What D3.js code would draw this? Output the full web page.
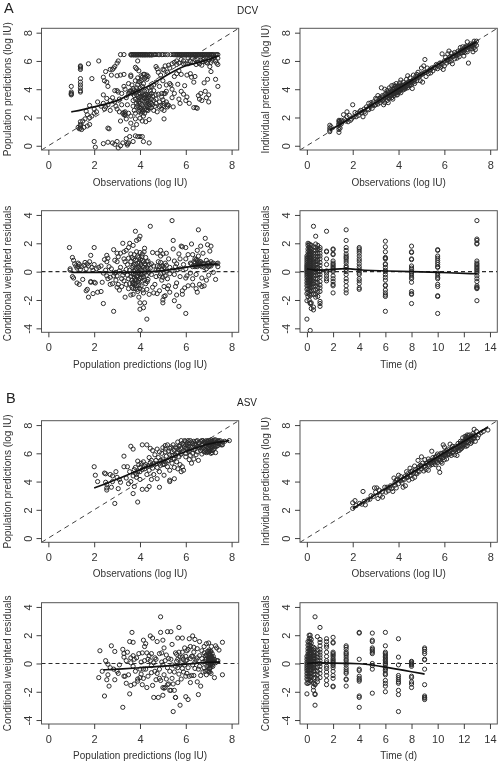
<!DOCTYPE html>
<html><head><meta charset="utf-8">
<script src="https://cdn.jsdelivr.net/npm/d3@7"></script>
<style>html,body{margin:0;background:#fff}svg{display:block;font-family:"Liberation Sans",Arial,sans-serif}</style>
</head><body><div id="c"></div>
<script>
// ---- DCV: population predictions vs observations
const dcvPopBandX=[3.15,3.3,3.6,3.65,3.7,3.75,3.8,3.85,3.9,3.95,4,4.05,4.1,4.15,4.2,4.25,4.3,4.4,4.45,4.5,4.6,4.65,4.7,4.8,4.85,4.95,5,5.1,5.2,5.35,5.45,5.5,5.55,5.6,5.65,5.7,5.75,5.8,5.85,5.9,5.95,6,6.05,6.1,6.15,6.2,6.25,6.3,6.35,6.4,6.45,6.5,6.55,6.6,6.65,6.7,6.75,6.8,6.85,6.9,6.95,7,7.05,7.1,7.15,7.2,7.3,7.35,7.4];
const dcvPopBandDense=[3.62,3.72,3.82,3.92,4.02,4.12,4.22,4.32,4.42,4.52,5.62,5.72,5.82,5.92,6.02,6.12,6.22,6.32,6.42,6.52,6.62,6.72,6.82,6.92,7.02,7.12,7.22];
const dcvPop=[[1,4.2],[1,3.8],[1,3.7],[1,3.6],[1.4,5.6],[1.4,5.5],[1.4,5.4],[1.4,4.75],[1.4,4.5],[1.4,4.3],[1.4,4.1],[1.4,3.9],[1.4,3.8],[1.75,5.8],[2.2,6],[1.9,4.75],[1.4,1.7],[1.4,1.5],[1.3,1.3],[1.35,1.2],[1.4,1.4],[1.5,1.75],[1.6,1.9],[1.55,1.3],[1.7,1.4],[1.8,1.5],[1.8,2.85],[1.7,2.2],[1.8,2],[1.9,2.1],[2,2.6],[2,2.3],[2.1,2.4],[2.15,3.1],[2.3,2.8],[2.4,3],[2.45,2.6],[1.65,2.45],[2,0.3],[2.05,-0.1],[2.4,0.15],[2.6,0.25],[2.8,0.2],[2.9,0.1],[3,0.3],[3.05,-0.15],[3.15,0],[3.25,0.2],[3.4,0.5],[3.45,0.15],[3.5,0.2],[3.55,0.65],[3.7,0.3],[3.8,0.7],[3.9,0.65],[4,0.65],[4.1,0.65],[4.15,0.3],[4.4,0.2],[2.6,1.25],[2.65,1.2],[3.4,1.15],[3.7,1.25],[3.85,1.5],[2.4,4.85],[2.45,4.6],[2.5,5.25],[2.55,4.5],[2.6,4.2],[2.7,5.4],[2.75,5],[2.8,5.4],[2.85,5.5],[2.9,5.6],[3,5.85],[3.05,6],[3,4.95],[3.15,5],[3.3,5.05],[2.4,3.6],[2.55,3.35],[2.7,3.2],[2.8,3.4],[2.9,3.1],[2.9,3.9],[3,3.9],[3.05,3.8],[3.1,3.3],[3.2,3.7],[2.6,2.9],[2.7,2.5],[2.5,2.75],[2.95,2.8],[3,2.6],[3.1,2.4],[3.2,2.9],[3.25,2.3],[3.3,2.2],[3.35,2.4],[3.15,1.75],[3.4,1.9],[3.5,2.3],[3.6,2.1],[3.6,1.6],[3.3,4.2],[3.35,4],[3.4,3.4],[3.45,2.9],[3.5,4.4],[3.5,3.7],[3.55,3.85],[3.6,5],[3.6,4.9],[3.65,4.3],[3.7,3.8],[3.7,3.2],[3.7,2.8],[3.75,2.5],[3.8,5.55],[3.85,5.45],[3.8,4.6],[3.85,4.1],[3.85,3.6],[3.85,3],[3.8,2.3],[3.8,1.9],[3.9,6],[3.95,5.3],[3.9,4.8],[3.9,4.3],[3.95,3.9],[3.95,3.4],[3.95,2.7],[3.95,2.4],[4,4.5],[4,4.1],[4,3.7],[4,3],[4,2.5],[4,1.95],[4.05,4.95],[4.05,4.6],[4.1,4.2],[4.1,3.2],[4.1,2.9],[4.1,2.4],[4.1,1.75],[4.15,5.05],[4.15,4.4],[4.15,3.6],[4.15,3.4],[4.15,2.1],[4.2,5.05],[4.2,4.75],[4.2,3.85],[4.2,3.1],[4.2,2.6],[4.25,1.7],[4.3,5],[4.3,4.7],[4.3,3.3],[4.3,2.8],[4.35,4.9],[4.35,3.6],[4.35,2.5],[4.4,4.1],[4.4,3.5],[4.4,2.9],[4.4,1.85],[4.5,4.2],[4.5,3.7],[4.5,3.3],[4.5,2.7],[4.6,4.3],[4.6,3.9],[4.6,2.5],[4.7,5.6],[4.75,5.45],[4.7,4.5],[4.7,3.6],[4.7,3],[4.75,2.4],[4.8,5.2],[4.85,4.2],[4.85,3.1],[4.9,5],[4.95,3.7],[4.95,2.6],[5,5.4],[5,4.6],[5.05,3.7],[5.05,3],[5.05,2.5],[5.05,1.9],[5.1,5.65],[5.15,4.3],[5.15,3.85],[5.2,5.2],[5.2,2.9],[5.25,5.7],[5.3,4.4],[5.35,4.3],[5.4,5.8],[5.4,4],[5.4,3.4],[5.45,2.75],[5.5,5.9],[5.5,4.9],[5.5,3.7],[5.6,6],[5.6,5.1],[5.65,4.35],[5.7,5.3],[5.7,3.3],[5.75,3],[5.8,6.1],[5.8,5.05],[5.8,3.85],[5.9,6],[5.9,3.65],[5.95,4.25],[6,5.8],[6,3.2],[6.05,5],[6.05,3.45],[6.1,6.2],[6.15,3],[6.2,5.95],[6.2,5.1],[6.25,4.85],[6.3,5.9],[6.35,4.5],[6.35,2.7],[6.4,6.1],[6.4,4.9],[6.45,2.7],[6.5,6.1],[6.5,2.65],[6.55,3.55],[6.6,5.8],[6.6,3.3],[6.65,3.7],[6.7,5.7],[6.7,3.2],[6.75,5.95],[6.8,6.15],[6.8,4.45],[6.85,3.85],[6.9,5.9],[6.9,3.4],[6.95,4.7],[7,6.1],[7,3.6],[7,3.1],[7.05,5.6],[7.1,5.9],[7.1,5.25],[7.2,6.2],[7.3,6],[7.3,4.7],[7.35,5.85],[7.4,5.75],[7.4,4.2],[7.4,6.2]];
const dcvPopDense=[[3.35,2.25],[3.35,2.15],[3.3,2.35],[3.55,3.75],[3.6,3.9],[3.65,3.7],[3.7,4.05],[3.75,3.95],[3.75,3.55],[3.8,3.8],[3.8,3.3],[3.85,3.85],[3.85,2.75],[3.9,3.5],[3.9,3.2],[3.9,2.85],[3.95,3.1],[3.95,4.55],[4,3.45],[4,3.25],[4.05,2.65],[4.05,2.3],[4.05,3.5],[4.1,3.75],[4.1,4.85],[4.1,2.55],[4.15,2.75],[4.15,2.45],[4.2,3.35],[4.2,3.55],[4.2,2.3],[4.25,3.65],[4.25,3.45],[4.25,2.95],[4.25,4.85],[4.3,3.15],[4.3,3.9],[4.3,2.55],[4.35,3.4],[4.35,3],[4.35,2.7],[4.4,3.2],[4.4,2.65],[4.45,3.9],[4.45,3.6],[4.45,3.05],[4.5,3],[4.55,3.5],[4.55,2.9],[4.6,3.2],[4.65,2.8],[4.7,3.3],[4.8,3.65],[4.85,2.75],[4.9,2.85],[4.95,3.45],[5,2.85],[5,3.25],[5.05,5.35],[5.1,3.7],[5.15,3.1],[5.2,2.75],[5.25,2.85],[5.3,5.5],[5.6,5.75],[5.7,5.85],[5.9,5.8],[6.1,5.8],[6.3,6.2],[6.45,5.75],[6.55,5.9],[6.65,6.05],[6.75,6.1],[6.85,6],[6.95,5.85],[7.05,6.2],[7.15,6.05],[7.25,6.25],[1.4,1.25],[1.45,1.15],[1.4,5.65],[1,3.65],[3.45,0.05]];
const dcvPopSmoothX=[1,1.5,2,2.5,3,3.5,4,4.5,5,5.5,6,6.5,7,7.4];
const dcvPopSmoothY=[2.4,2.55,2.75,2.95,3.15,3.6,3.95,4.3,4.85,5.3,5.7,5.85,6.1,6.35];
// ---- DCV: individual predictions vs observations
const dcvInd=[[1,1.45],[1,1.25],[1,1.1],[1,1],[1.05,1.35],[1.4,1.8],[1.4,1.7],[1.4,1.5],[1.4,1.3],[1.4,1.15],[1.4,0.95],[1.45,1.65],[1.45,1.25],[1.5,1.8],[1.6,2.2],[1.65,1.85],[1.7,1.75],[1.75,2.4],[1.75,2.05],[1.8,1.7],[1.85,2.15],[1.9,1.8],[1.95,1.9],[2,2.9],[2.05,2.05],[2.1,2.35],[2.2,2.3],[2.3,2.4],[2.4,2.35],[2.45,2.05],[2.5,2.6],[2.55,2.3],[2.6,2.75],[2.7,3],[2.7,2.55],[2.75,2.8],[2.8,3.05],[2.85,2.65],[2.9,3.1],[2.95,2.85],[3,3.35],[3,2.9],[3.05,3.1],[3.1,3.55],[3.1,2.95],[3.15,3.2],[3.2,3.4],[3.2,3.05],[3.25,4.1],[3.3,3.55],[3.3,3.2],[3.35,2.9],[3.4,4],[3.4,3.4],[3.4,3.05],[3.45,3.7],[3.5,3.9],[3.5,3.5],[3.5,3.2],[3.55,3.6],[3.55,3.05],[3.6,4.1],[3.6,3.75],[3.6,3.35],[3.65,3.95],[3.65,3.5],[3.7,4.25],[3.7,3.8],[3.7,3.4],[3.75,3.65],[3.75,3.3],[3.8,4.3],[3.8,3.95],[3.8,3.55],[3.85,4.05],[3.85,3.7],[3.9,4.4],[3.9,4.15],[3.9,3.75],[3.95,3.95],[3.95,3.6],[4,4.3],[4,4.1],[4,3.8],[4.05,4.45],[4.05,3.95],[4.1,4.65],[4.1,4.2],[4.1,3.75],[4.15,4.05],[4.2,4.5],[4.2,4.25],[4.2,3.95],[4.25,4.1],[4.3,4.35],[4.3,4.05],[4.35,4.7],[4.35,4.2],[4.4,4.95],[4.4,4.45],[4.4,4.1],[4.45,4.25],[4.5,4.8],[4.5,4.5],[4.55,4.3],[4.6,4.6],[4.6,4.05],[4.65,5],[4.7,4.7],[4.7,4.4],[4.75,4.9],[4.8,5.05],[4.8,4.6],[4.85,5.2],[4.9,4.85],[4.95,5],[4.95,4.6],[5,5.5],[5,5.05],[5.05,4.5],[5.1,5.65],[5.15,6.1],[5.15,5.2],[5.2,4.9],[5.25,5.5],[5.3,5.1],[5.35,5.35],[5.4,5.15],[5.45,5.5],[5.5,5.3],[5.6,5.5],[5.65,5.75],[5.7,5.45],[5.75,5.6],[5.8,5.85],[5.85,5.55],[5.9,6.5],[5.9,5.75],[5.95,5.4],[6,6],[6,5.65],[6.05,6.25],[6.1,5.85],[6.15,6.5],[6.15,6.1],[6.2,6.7],[6.2,5.95],[6.25,6.3],[6.3,6.55],[6.3,6],[6.35,5.8],[6.4,6.35],[6.45,6.6],[6.45,6.15],[6.5,6.4],[6.55,6.2],[6.6,6.7],[6.6,6.45],[6.65,6.3],[6.7,6.95],[6.7,6.55],[6.75,6.75],[6.8,7],[6.8,6.6],[6.85,6.35],[6.9,6.85],[6.9,6.6],[6.95,7.05],[7,7.35],[7,6.8],[7.05,5.85],[7.05,7],[7.1,6.9],[7.15,7.2],[7.2,7.05],[7.2,6.85],[7.25,6.65],[7.3,7.4],[7.3,7.15],[7.3,6.95],[7.35,6.8],[7.4,7.4],[7.4,7.1]];
const dcvIndDense=[[1.4,1.55],[1.42,1.75],[1.5,1.55],[1.55,1.7],[2.15,2.05],[2.25,2.15],[2.35,2.5],[2.5,2.4],[2.65,2.6],[2.8,2.8],[2.9,2.95],[3.05,3.3],[3.15,3.35],[3.2,3.25],[3.25,3.3],[3.3,3.45],[3.35,3.3],[3.4,3.6],[3.45,3.45],[3.5,3.65],[3.55,3.4],[3.55,3.8],[3.6,3.55],[3.65,3.65],[3.7,3.6],[3.75,3.85],[3.75,4],[3.8,3.7],[3.85,3.85],[3.85,4.2],[3.9,3.6],[3.9,3.95],[3.95,4.2],[3.95,3.8],[4,3.95],[4,4.2],[4.05,4.15],[4.05,3.85],[4.1,4],[4.15,4.3],[4.15,4.15],[4.2,4.1],[4.25,4.3],[4.25,4],[4.3,4.2],[4.35,4.4],[4.4,4.3],[4.45,4.55],[4.5,4.35],[4.55,4.55],[4.6,4.45],[4.65,4.65],[4.7,4.55],[4.8,4.8],[4.9,4.95],[5.05,5.1],[5.2,5.2],[5.4,5.4],[5.55,5.55],[5.7,5.7],[5.85,5.85],[6.1,6.05],[6.25,6.15],[6.35,6.3],[6.5,6.5],[6.6,6.55],[6.7,6.7],[6.75,6.6],[6.8,6.8],[6.85,6.7],[6.9,6.95],[7,7],[7,6.65],[7.1,7.1],[7.15,7.05],[7.25,7.2],[7.35,7.25]];
const dcvIndSmoothX=[1,2,3,4,5,6,7,7.4];
const dcvIndSmoothY=[1.1,2.05,3.05,4.05,5.05,6.02,7,7.35];
// ---- DCV: residuals vs population predictions
const dcvResPop=[[0.92,1.7],[0.95,0.2],[0.95,0.1],[1.05,1],[1.1,0.8],[1.05,-0.35],[1.1,-0.45],[1.2,0.4],[1.25,0.25],[1.25,-0.8],[1.3,0.6],[1.35,0.5],[1.35,-0.9],[1.45,0.35],[1.5,-0.55],[1.6,0.65],[1.65,0.2],[1.65,-1.35],[1.7,-1.25],[1.7,0.55],[1.75,-1.8],[1.8,0.7],[1.85,-0.75],[1.85,-0.7],[1.85,1.15],[1.9,0.3],[1.95,-1.55],[2,-0.75],[2,0.5],[2,1.7],[2.05,-0.8],[2.1,0.2],[2.15,-1.45],[2.3,0.4],[2.3,-1.4],[2.35,-0.75],[2.4,-2.25],[2.45,0.85],[2.5,0.1],[2.55,1.15],[2.55,0.7],[2.55,-0.3],[2.6,0.95],[2.7,-0.4],[2.7,-0.9],[2.75,0.2],[2.8,-0.85],[2.85,1.55],[2.85,-2.8],[2.9,0.8],[2.9,-0.1],[2.95,-0.6],[3,1.3],[3,0.7],[3,-0.3],[3,-1.1],[3.05,1.05],[3.1,-1.3],[3.15,1.3],[3.15,0.3],[3.2,-0.5],[3.2,-1.05],[3.25,2],[3.3,1.4],[3.3,0.9],[3.3,-0.05],[3.35,-1.8],[3.4,1.5],[3.4,-0.9],[3.45,0.5],[3.5,1.7],[3.5,-0.5],[3.5,-1.2],[3.55,2],[3.55,0.1],[3.6,-1.65],[3.6,1.25],[3.6,0.7],[3.65,1],[3.65,-0.6],[3.65,-1.1],[3.7,1.85],[3.7,0.4],[3.7,-0.2],[3.7,-0.75],[3.7,-1.6],[3.75,1.2],[3.75,-0.4],[3.75,-0.9],[3.8,2.85],[3.8,0.8],[3.8,0.1],[3.8,-0.55],[3.8,-1.2],[3.85,1.4],[3.85,2.2],[3.85,-0.3],[3.85,-1],[3.9,0.6],[3.9,-0.1],[3.9,-0.7],[3.9,-1.4],[3.95,1],[3.95,2.3],[3.95,0.25],[3.95,-1.8],[4,1.35],[4,2.5],[4,-0.5],[4,-2.2],[4,-2.65],[4,-4.15],[4.05,0.5],[4.05,-0.2],[4.05,-1],[4.1,1.25],[4.1,0.8],[4.1,-0.65],[4.15,0.3],[4.15,-1.5],[4.15,-2.55],[4.2,-2.2],[4.2,1.65],[4.2,0.55],[4.2,-0.1],[4.25,1],[4.25,-0.85],[4.3,0.7],[4.3,-1.25],[4.3,-3.35],[4.35,0.2],[4.35,-0.55],[4.4,0.5],[4.4,-1.6],[4.45,3.2],[4.5,-0.2],[4.55,1.35],[4.6,-1.5],[4.6,0.4],[4.65,-0.9],[4.7,0.1],[4.75,1.3],[4.75,-1.55],[4.8,0.7],[4.85,-0.3],[4.85,-1.35],[4.9,1.5],[4.9,1.1],[4.95,0.4],[4.95,-0.6],[5,-2],[5,1.25],[5,-2.2],[5.05,-1.05],[5.05,-0.05],[5.05,-1.75],[5.1,0.6],[5.1,-1.7],[5.15,1.3],[5.15,0.05],[5.2,-0.5],[5.25,0.9],[5.25,-1],[5.3,0.3],[5.3,-1.45],[5.4,3.6],[5.45,2.2],[5.45,1.6],[5.5,0.75],[5.5,-0.2],[5.5,-2.05],[5.55,0.35],[5.55,-1.05],[5.6,-0.8],[5.6,-1.65],[5.7,1.25],[5.7,-2.45],[5.75,0.9],[5.75,0.2],[5.75,-0.35],[5.8,1.8],[5.85,1.75],[5.85,-1.35],[5.85,-1.6],[5.9,0.5],[5.95,-1.15],[6,1.7],[6,0.9],[6,-0.45],[6,-2.95],[6.1,1.2],[6.1,-1],[6.2,0.6],[6.2,-0.1],[6.25,1.95],[6.3,1.2],[6.3,-0.5],[6.3,-0.95],[6.35,0.7],[6.4,0.9],[6.4,0.35],[6.45,-0.2],[6.45,-1.2],[6.5,1.5],[6.5,0.8],[6.5,0.5],[6.5,-1.45],[6.55,2.95],[6.55,1.1],[6.55,0.65],[6.6,0.45],[6.6,-0.9],[6.65,1.8],[6.65,0.7],[6.7,0.35],[6.7,-1.05],[6.75,1.3],[6.75,0.55],[6.8,0.3],[6.85,2.35],[6.9,0.8],[6.9,0.2],[6.9,-0.6],[6.95,1.9],[7,0.6],[7,-0.25],[7.05,1.45],[7.05,0.45],[7.1,1.8],[7.1,0.7],[7.15,0.55],[7.2,-0.05],[7.3,-0.55],[7.35,0.55],[7.4,0.35],[7.4,0.6]];
const dcvResPopDense=[[1.15,0.55],[1.3,0.35],[1.4,0.15],[1.55,0.45],[1.75,0.4],[1.95,0.1],[2.2,0.3],[2.4,-0.1],[2.6,-0.5],[2.65,0.35],[2.85,-0.3],[2.95,-0.05],[3.05,-0.9],[3.1,0.05],[3.25,-0.25],[3.3,-0.65],[3.35,0.7],[3.4,0.15],[3.45,-0.25],[3.5,0.95],[3.55,-0.85],[3.6,-0.35],[3.62,-0.1],[3.65,0.3],[3.68,-0.85],[3.7,-1.2],[3.72,0.9],[3.75,0.05],[3.75,0.5],[3.78,-0.6],[3.8,-0.2],[3.8,-0.85],[3.82,0.55],[3.85,0.2],[3.85,-0.6],[3.88,-1.25],[3.9,-0.3],[3.9,1.1],[3.92,0.3],[3.95,-0.6],[3.95,-0.95],[3.98,0.65],[4,-0.1],[4,0.2],[4,-1.2],[4.02,0.85],[4.05,-0.4],[4.05,0.15],[4.08,1.05],[4.1,-0.2],[4.1,0.35],[4.12,-1.3],[4.15,0.7],[4.15,-0.35],[4.18,1.4],[4.2,-0.6],[4.22,0.2],[4.25,0.5],[4.28,-0.25],[4.3,0.3],[4.32,-0.7],[4.35,0.75],[4.4,-0.05],[4.45,0.25],[4.5,0.55],[4.55,-1.1],[4.7,-0.35],[4.75,0.4],[4.8,0.1],[4.85,0.35],[4.9,-0.15],[4.9,0.65],[4.95,0.15],[5,0.4],[5,-0.4],[5.05,0.3],[5.1,-0.3],[5.15,0.45],[5.2,-1.2],[5.3,-0.15],[5.4,0.1],[5.6,0.55],[5.65,0.15],[6,0.2],[6.05,-0.3],[6.25,0.55],[6.3,0.35],[6.4,0.6],[6.45,0.85],[6.5,0.35],[6.55,0.45],[6.58,0.75],[6.6,0.6],[6.65,0.45],[6.7,0.6],[6.7,-0.45],[6.8,0.55],[6.8,-1],[6.9,0.45],[6.95,0.6],[7,0.35],[7.1,0.4],[7.2,0.6]];
const dcvResPopSmoothX=[1,2,3,4,5,6,6.5,7.4];
const dcvResPopSmoothY=[-0.05,-0.05,-0.05,-0.05,0.05,0.3,0.45,0.55];
// ---- DCV: residuals vs time
const dcvTimes=[0,0.08,0.17,0.25,0.33,0.5,0.67,0.83,1,1.5,2,3,4,6,8,10,13];
const dcvTimeRes=[
[1.1,0.95,0.8,0.65,0.5,0.4,0.3,0.2,0.1,0,-0.1,-0.25,-0.4,-0.6,-0.8,-1,-1.25,-1.55,-2.05,-3.35],
[2,1.85,1.6,1.4,1.2,1,0.85,0.7,0.55,0.4,0.25,0.1,-0.05,-0.2,-0.35,-0.5,-0.65,-0.8,-1,-1.2,-1.45,-1.75],
[1.95,1.7,1.5,1.3,1.15,1,0.8,0.65,0.5,0.35,0.2,0.05,-0.1,-0.25,-0.4,-0.6,-0.8,-1,-1.3,-1.6,-2],
[1.9,1.65,1.45,1.25,1.05,0.9,0.75,0.6,0.45,0.3,0.15,0,-0.15,-0.3,-0.45,-0.6,-0.75,-0.95,-1.15,-1.4,-1.7,-2.2,-2.25,-4.15],
[1.85,1.6,1.4,1.2,1,0.85,0.7,0.55,0.4,0.25,0.1,-0.05,-0.2,-0.35,-0.55,-0.7,-0.9,-1.1,-1.35,-1.6,-2.2,-2.6],
[3.2,1.75,1.5,1.3,1.1,0.9,0.75,0.6,0.4,0.25,0.1,-0.05,-0.25,-0.45,-0.65,-0.85,-1.05,-1.3,-1.6,-2.5,-2.7],
[2.5,1.95,1.7,1.5,1.3,1.1,0.9,0.7,0.5,0.3,0.15,-0.05,-0.25,-0.5,-0.75,-1,-1.3,-1.6,-1.8],
[1.85,1.6,1.3,1.05,0.8,0.55,0.3,0.05,-0.2,-0.5,-0.8,-1.1,-1.45,-1.75],
[1.7,1.55,1.3,1.1,0.9,0.65,0.45,0.2,0,-0.2,-0.4,-0.7,-0.95,-1.15,-1.4,-2.1,-2.25,-2.45],
[2.85,1.45,1.4,0.9,0.5,0.05,-0.1,-0.3,-0.5,-0.65],
[1.6,1.55,1.25,1.2,0.75,0.6,0.5,0.4,0.3,0.2,0.1,0,-0.3,-0.5,-0.7,-0.9,-1,-1.5],
[2.95,2.2,1.7,1.5,1.25,1.1,1,0.9,0.75,0.6,0.4,0.3,0.15,0,-0.2,-0.5,-0.7,-1,-1.3,-1.5],
[1.7,1.6,1.45,1.3,1.1,0.9,0.75,0.55,0.35,0.2,0.05,-0.1,-0.2,-0.5,-0.65,-0.85,-1.15,-1.25],
[2.15,1.75,1.4,1,0.95,0.9,0.55,0.5,0.3,0.1,0,-0.2,-0.4,-0.6,-0.95,-1,-1.3,-1.5,-1.65,-1.75,-2.8],
[1.8,1.4,1.35,0.9,0.85,0.4,0.25,0.15,0,-0.1,-0.25,-0.4,-0.5,-0.75,-1.4,-1.55,-1.6,-2.25],
[1.55,1.5,1.1,0.95,0.8,0.65,0.5,0.35,0.3,-0.1,-0.25,-0.4,-0.5,-0.9,-1.05,-1.7,-1.75,-2.95],
[3.6,2.3,2.2,2,1.95,0.75,0.6,0.5,0.4,0.3,0.2,0.1,0,-0.1,-0.3,-0.5,-0.7,-1,-1.1,-1.15,-1.2,-2.05]];
const dcvTimeSmoothX=[0,0.5,1,2,3,4,5,6,8,10,13];
const dcvTimeSmoothY=[0.2,0.12,0.1,0.15,0.25,0.12,0.08,0.05,0,-0.05,-0.15];
// ---- ASV: population predictions vs observations
const asvPop=[[2,5.05],[2.05,4.45],[2.15,4],[2.45,4.6],[2.5,4.55],[2.5,3.95],[2.55,3.8],[2.55,3.55],[2.55,3.4],[2.7,4.5],[2.75,3.6],[2.8,4.4],[2.8,4],[2.9,2.45],[2.95,4.7],[3,4.3],[3.05,3.5],[3.1,4.15],[3.15,3.95],[3.3,5.8],[3.3,5.05],[3.4,4.25],[3.45,5.05],[3.5,3.85],[3.55,4.7],[3.6,6.5],[3.6,4],[3.7,6.3],[3.7,4.4],[3.7,3.15],[3.75,4.85],[3.75,3.65],[3.8,5],[3.85,4.5],[3.85,4.3],[3.9,5.45],[3.9,2.55],[3.95,5.2],[4,5],[4,4.7],[4,4.15],[4.05,5.3],[4.1,6.6],[4.1,3.45],[4.15,5.4],[4.2,4.9],[4.25,5.2],[4.3,6.6],[4.3,4.5],[4.3,3.45],[4.35,5.1],[4.4,5.7],[4.4,4.8],[4.4,3.65],[4.45,6.35],[4.5,5.5],[4.5,5.15],[4.5,4.15],[4.55,6.2],[4.6,5.25],[4.6,4.5],[4.65,5.9],[4.7,5.5],[4.75,6.3],[4.75,5],[4.75,4.2],[4.8,5.7],[4.85,6.1],[4.85,5.3],[4.85,4.7],[4.85,3.6],[4.9,5.5],[4.95,6],[5,6.4],[5,5.6],[5,5.2],[5.05,4.45],[5.1,6.55],[5.1,6.3],[5.1,5.4],[5.15,5.8],[5.2,6.6],[5.2,5.05],[5.25,6.15],[5.25,5.5],[5.3,4.8],[5.3,4.1],[5.3,4],[5.35,6.45],[5.4,5.85],[5.4,5.3],[5.45,6.6],[5.5,6.2],[5.5,5.6],[5.5,5],[5.5,4.2],[5.55,6.45],[5.6,6.05],[5.6,5.4],[5.65,6.8],[5.65,4.9],[5.7,6.5],[5.7,5.75],[5.75,5.2],[5.8,6.9],[5.8,6.3],[5.8,5.95],[5.8,4.7],[5.85,5.05],[5.9,6.6],[5.9,4.8],[5.95,6.9],[6,6.35],[6,6],[6,5.75],[6.05,6.75],[6.1,6.9],[6.1,6.5],[6.15,6.15],[6.15,5.55],[6.2,6.9],[6.2,5.85],[6.25,6.4],[6.25,5.3],[6.3,6.7],[6.3,6],[6.35,6.85],[6.35,5.6],[6.4,6.3],[6.45,6.6],[6.45,5.9],[6.5,6.9],[6.5,6.1],[6.55,6.45],[6.55,5.5],[6.6,6.75],[6.65,6.2],[6.7,6.9],[6.7,6.55],[6.7,5.95],[6.75,6.35],[6.8,6.8],[6.8,6.1],[6.85,6.55],[6.9,6.9],[6.9,6.2],[6.9,6.05],[6.95,6.7],[6.95,6.4],[7,6.9],[7,6.6],[7,6.1],[7.05,6.8],[7.05,6.3],[7.1,6.95],[7.1,6.5],[7.1,6],[7.15,6.7],[7.15,6.2],[7.2,6.9],[7.2,6.55],[7.25,6.8],[7.25,6.35],[7.3,6.95],[7.3,6.5],[7.3,6.05],[7.35,6.75],[7.4,6.9],[7.4,6.55],[7.45,6.75],[7.5,6.9],[7.55,6.6],[7.6,6.8],[7.7,6.85],[7.9,6.9]];
const asvPopDense=[[3.8,4.6],[3.9,4.7],[4.1,4.85],[4.2,5.1],[4.45,5.35],[4.55,4.95],[4.7,5.25],[4.9,5.15],[5,5.45],[5.05,5.25],[5.1,6.1],[5.2,5.45],[5.3,5.9],[5.3,6.35],[5.4,6.1],[5.45,5.65],[5.55,5.85],[5.6,6.35],[5.65,6.1],[5.7,6.25],[5.75,6.6],[5.85,6.1],[5.85,6.7],[5.9,6.2],[5.95,6.45],[6,6.6],[6,6.85],[6.05,6.35],[6.1,6.15],[6.15,6.7],[6.2,6.5],[6.25,6.8],[6.3,6.45],[6.35,6.25],[6.4,6.65],[6.45,6.85],[6.5,6.5],[6.55,6.75],[6.6,6.4],[6.65,6.85],[6.7,6.3],[6.75,6.65],[6.75,6.9],[6.8,6.45],[6.85,6.8],[6.85,6.15],[6.9,6.5],[6.95,6.85],[6.95,6.1],[7,6.75],[7,6.4],[7,6.25],[7.05,6.55],[7.05,6.9],[7.05,6.15],[7.1,6.7],[7.1,6.35],[7.15,6.85],[7.15,6.45],[7.15,6.05],[7.2,6.7],[7.2,6.25],[7.25,6.5],[7.25,6.95],[7.3,6.75],[7.35,6.5],[7.4,6.7],[7.45,6.85],[7.5,6.65],[7.6,6.6]];
const asvPopSmoothX=[2,2.5,3,3.5,4,4.5,5,5.5,6,6.5,7,7.9];
const asvPopSmoothY=[3.55,3.85,4.15,4.5,4.85,5.15,5.45,5.8,6.15,6.4,6.7,6.9];
// ---- ASV: individual predictions vs observations
const asvInd=[[2,2.5],[2,2.1],[2.1,2.65],[2.15,2.3],[2.3,2.45],[2.4,2.4],[2.45,3.3],[2.5,2.6],[2.55,2.35],[2.65,2.7],[2.75,2.75],[2.8,3],[2.9,2.95],[2.95,3.55],[3,3.25],[3.05,3.55],[3.1,2.8],[3.15,3.4],[3.2,3],[3.3,2.9],[3.3,3.3],[3.4,3.6],[3.45,3.25],[3.5,3.6],[3.55,3.35],[3.65,3.7],[3.7,3.5],[3.75,3.3],[3.8,4.25],[3.85,3.95],[3.9,3.55],[3.95,4.15],[4,3.85],[4,4.45],[4.05,4.1],[4.1,4.35],[4.15,3.9],[4.2,3.6],[4.25,4.15],[4.3,3.7],[4.35,4.7],[4.35,4.3],[4.4,4.55],[4.45,4.1],[4.5,4.95],[4.5,4.4],[4.55,4.7],[4.6,4.2],[4.65,4.6],[4.7,5.1],[4.7,4.3],[4.75,4.85],[4.8,4.55],[4.85,5.5],[4.85,4.95],[4.9,4.7],[4.95,5.15],[5,5.75],[5,4.9],[5.05,5.3],[5.1,4.75],[5.15,5.55],[5.15,5.1],[5.2,4.85],[5.25,5.3],[5.3,5.6],[5.3,4.8],[5.35,5.1],[5.4,5.45],[5.45,6.15],[5.45,5.2],[5.5,5.7],[5.5,5.35],[5.55,5.55],[5.6,5.2],[5.65,5.8],[5.65,5.45],[5.7,5.95],[5.75,5.55],[5.75,4.95],[5.8,4.65],[5.8,5.75],[5.85,6],[5.85,5.4],[5.9,5.65],[5.9,5.3],[5.95,6.6],[5.95,5.9],[6,6.45],[6,5.55],[6.05,6.1],[6.05,5.8],[6.1,5.6],[6.15,6.3],[6.2,5.95],[6.25,6.65],[6.25,6.15],[6.3,5.85],[6.35,6.5],[6.4,6.1],[6.45,5.9],[6.5,6.3],[6.55,5.85],[6.6,6.7],[6.6,6.4],[6.65,6.2],[6.7,6.85],[6.7,6.5],[6.75,6.35],[6.8,7.1],[6.8,6.65],[6.8,6.45],[6.85,6.85],[6.9,7.2],[6.9,6.6],[6.95,7],[6.95,6.75],[7,7.3],[7,6.85],[7,6.55],[7.05,7.1],[7.1,6.9],[7.1,7.3],[7.15,6.7],[7.2,7.2],[7.2,6.95],[7.25,7.4],[7.3,7.05],[7.3,7.7],[7.35,7.25],[7.35,6.85],[7.4,7.55],[7.45,7.1],[7.5,7.3],[7.6,7.45],[7.7,7.55],[7.9,7.65]];
const asvIndDense=[[3.6,3.55],[3.85,3.75],[3.9,4.1],[4.1,4.05],[4.2,4.2],[4.3,4.4],[4.4,4.3],[4.55,4.45],[4.6,4.75],[4.75,4.6],[4.85,4.75],[4.9,5.05],[5,5.1],[5.1,5.05],[5.2,5.3],[5.3,5.2],[5.35,5.45],[5.4,5.3],[5.5,5.5],[5.55,5.3],[5.6,5.7],[5.65,5.6],[5.7,5.35],[5.75,5.85],[5.8,5.5],[5.85,5.75],[5.9,5.95],[5.95,5.7],[6,5.9],[6,6.1],[6.05,5.95],[6.1,6.2],[6.15,5.9],[6.2,6.15],[6.25,5.95],[6.3,6.25],[6.35,6.05],[6.4,6.35],[6.45,6.25],[6.5,6.5],[6.55,6.35],[6.6,6.2],[6.65,6.55],[6.7,6.7],[6.7,6.3],[6.75,6.55],[6.8,6.85],[6.85,6.6],[6.9,6.95],[6.9,6.8],[6.95,7.15],[6.95,6.5],[7,7.1],[7.05,6.75],[7.05,7.25],[7.1,7.05],[7.15,6.95],[7.15,7.15],[7.2,6.8],[7.25,7.1],[7.3,7.3]];
const asvIndSmoothX=[2,3,4,5,6,7,7.9];
const asvIndSmoothY=[2.1,3.07,4.07,5.05,6.05,7,7.85];
// ---- ASV: residuals vs population predictions
const asvResPop=[[2.2,-1],[2.25,0.9],[2.35,-0.55],[2.45,-2.3],[2.5,0.2],[2.55,-1.15],[2.6,-0.05],[2.6,-0.8],[2.65,-1.6],[2.7,-0.3],[2.75,1.25],[2.85,-0.4],[2.9,0.85],[2.9,-1.15],[3,-0.55],[3.05,-0.7],[3.1,-0.1],[3.25,1],[3.25,-3.1],[3.3,0.7],[3.3,0.45],[3.35,-0.9],[3.4,-1.4],[3.4,0.2],[3.45,0.8],[3.5,-0.8],[3.55,1.55],[3.55,-2.15],[3.6,-1.55],[3.6,0.05],[3.65,2.2],[3.7,1.5],[3.7,0.55],[3.7,-0.2],[3.75,-1.45],[3.8,-0.55],[3.85,0.4],[3.9,-1.25],[3.95,0.7],[4,-0.4],[4,-1],[4.05,0.1],[4.1,0.75],[4.1,-1.5],[4.15,1.65],[4.15,-1.05],[4.2,1.2],[4.25,1.4],[4.25,-0.4],[4.3,0.75],[4.3,-1.7],[4.35,0.3],[4.45,1.95],[4.45,0.2],[4.5,0.7],[4.5,-0.65],[4.55,1.8],[4.55,-1.55],[4.6,-2.4],[4.65,0.4],[4.65,-0.55],[4.7,-1.15],[4.75,1.55],[4.8,-2.4],[4.85,0.7],[4.85,-0.4],[4.9,2.2],[4.9,-1.2],[4.9,3.3],[4.95,0.1],[5,1.65],[5,-2.25],[5.05,1.1],[5.05,-0.8],[5.1,-1.7],[5.15,0.6],[5.2,2.25],[5.2,-0.3],[5.25,-1.45],[5.3,-1.9],[5.35,2.25],[5.35,0.3],[5.4,1.35],[5.4,-1.05],[5.45,-3.4],[5.5,-1.9],[5.55,0.75],[5.55,-0.2],[5.55,-2.4],[5.6,0.15],[5.65,1.8],[5.65,-1.35],[5.7,2.55],[5.7,0.8],[5.75,-0.1],[5.75,-2.95],[5.8,-1.1],[5.85,1.8],[5.85,0.45],[5.9,-0.6],[5.95,1.1],[6,-2.35],[6,0.2],[6.05,0.9],[6.05,-0.7],[6.1,-2.55],[6.15,1.75],[6.2,1.2],[6.2,-1.35],[6.25,0.5],[6.3,-0.1],[6.3,1.95],[6.35,0.8],[6.35,-0.85],[6.4,1.7],[6.45,0.25],[6.5,1.05],[6.5,-1.3],[6.55,-2.2],[6.55,-0.4],[6.6,1.55],[6.6,0.55],[6.65,-0.85],[6.65,-1.6],[6.7,0.9],[6.75,0.1],[6.8,1.2],[6.85,0.55],[6.85,-0.55],[6.9,1.4],[6.9,0.3],[6.9,-0.8],[6.95,0.85],[6.95,0.1],[7,1.45],[7,0.7],[7,0.4],[7,-0.15],[7,-0.6],[7.02,0.95],[7.05,0.55],[7.05,0.2],[7.05,-0.35],[7.08,0.85],[7.1,0.45],[7.1,0],[7.1,-0.7],[7.12,1.2],[7.15,0.7],[7.15,0.3],[7.15,-0.1],[7.2,0.5],[7.2,0.15],[7.25,-1],[7.25,0.1],[7.3,1.25],[7.35,1.1],[7.4,0.2],[7.45,0.95],[7.6,1.5],[7.6,-0.8]];
const asvResPopDense=[[3.3,-0.9],[3.6,0.4],[3.75,0.3],[3.9,-1.1],[4.05,-0.75],[4.15,-0.4],[4.2,0.2],[4.35,-0.9],[4.4,0.55],[4.5,-0.15],[4.6,0.05],[4.7,0.3],[4.75,-0.7],[4.85,-1.05],[4.95,0.75],[5,-1.7],[5,-0.1],[5.05,-1.75],[5.1,0.2],[5.15,-1.1],[5.2,-1.5],[5.25,0.35],[5.3,-0.55],[5.35,-1.9],[5.4,-0.1],[5.45,-1.45],[5.5,-0.6],[5.55,-2.4],[5.6,0.65],[5.65,0.3],[5.65,-0.3],[5.7,-0.75],[5.75,0.45],[5.8,0.05],[5.85,-0.35],[5.85,0.8],[5.9,0.3],[5.95,-0.1],[6,0.5],[6,-0.9],[6.05,0.25],[6.1,-0.3],[6.1,1],[6.15,-0.9],[6.2,0.35],[6.25,-0.85],[6.3,0.5],[6.35,1.15],[6.4,-0.35],[6.4,0.1],[6.5,0.4],[6.6,-0.2],[6.7,0.35],[6.75,-0.6],[6.8,0.75],[6.8,-0.3],[6.85,0.15],[6.9,0.6],[6.92,-0.2],[6.95,0.5],[6.95,-0.5],[6.98,0.25],[7,0],[7,0.2],[7,0.55],[7,0.85],[7.02,-0.35],[7.02,0.3],[7.04,0.1],[7.05,0.4],[7.05,0.7],[7.05,-0.6],[7.08,-0.1],[7.08,0.2],[7.08,0.55],[7.1,0.3],[7.1,0.85],[7.1,-0.25],[7.12,0.05],[7.12,0.5],[7.15,0.15],[7.15,0.4],[7.18,-0.2],[7.2,0.05],[7.2,0.3],[7.25,0.3],[7.3,0.05],[7.35,0.2]];
const asvResPopSmoothX=[2.4,3,4,5,6,7,7.5];
const asvResPopSmoothY=[-0.45,-0.4,-0.3,-0.2,-0.05,0.1,0.1];
// ---- ASV: residuals vs time
const asvTimes=[0,0.08,0.17,0.25,0.33,0.5,0.62,0.8,1,1.5,2,3,4,5,6,7,8,9];
const asvTimeRes=[
[0.5,0.3,0.1,-0.05,-0.2,-0.35,-0.5,-0.7,-0.9,-1.1,-1.4,-2.15],
[1.55,1.3,1.05,0.85,0.65,0.45,0.3,0.15,0,-0.15,-0.3,-0.5,-0.7,-0.9,-1.15,-1.4],
[2,1.75,1.5,1.3,1.1,0.9,0.7,0.5,0.35,0.2,0.05,-0.1,-0.25,-0.45,-0.65,-0.85,-1.1,-1.35],
[2,1.8,1.55,1.3,1.1,0.95,0.75,0.6,0.45,0.3,0.15,0,-0.15,-0.3,-0.5,-0.7,-0.95,-1.2],
[1.7,1.45,1.2,1,0.8,0.65,0.5,0.35,0.2,0.05,-0.1,-0.25,-0.45,-0.7,-0.95,-1.25],
[1.15,0.95,0.75,0.6,0.45,0.3,0.15,0,-0.15,-0.35,-0.55,-0.8,-1.05,-1.4,-1.65,-1.9],
[3.3,1.05,0.8,0.55,0.35,0.15,-0.05,-0.25,-0.5,-0.75,-1,-1.45,-1.5,-2.15,-2.2,-2.95],
[1.9,0.95,0.7,0.45,0.2,0,-0.25,-0.55,-0.8,-1.1,-1.3],
[2.55,1.7,1.5,1.25,1,0.8,0.6,0.4,0.2,0,-0.2,-0.45,-0.7,-1],
[1.75,1.55,1.3,1.15,0.8,0.5,0.2,0.05,-0.2,-0.35,-0.6,-0.85,-1.2,-1.5],
[1.85,1.5,1.45,0.8,0.7,0.6,0.5,0.35,0.25,0.15,0.05,-0.05,-0.15,-0.3,-0.55,-0.85,-1.05,-1.6,-1.65],
[1.25,1.15,1,0.8,0.7,0.6,0.45,0.3,0.2,0.05,-0.1,-0.3,-0.45,-0.6,-0.7,-1.1,-1.15,-1.6],
[2.2,2.15,0.3,-0.4,-0.5,-0.9,-1.05,-1.15,-1.25,-2.3,-2.4,-3.1],
[2.15,1.65,1.55,1.1,1,0.9,0.8,0.7,0,-0.15,-0.4,-2.1],
[2.2,1.25,0.8,0.7,0.6,0.5,0.4,0.3,0.2,0.1,0,-0.1,-0.3,-0.4,-0.5,-0.7,-0.8,-1.2,-1.4,-1.6,-2],
[1.75,0.45,-0.1,-0.85,-1,-1.15,-1.3,-1.4,-1.9,-2.2,-3.4],
[0.15,0.1,0,-0.05,-0.1,-0.2,-0.9,-1,-1.3,-1.45,-1.7],
[1.1,1,0.85,0.7,0.3,0.25,-0.4,-1.5,-2.3,-2.4,-2.45,-2.55]];
const asvTimeSmoothX=[0,0.5,1,2,3,4,5,6,7,8,9];
const asvTimeSmoothY=[0,0.05,0.05,0.03,0,0,-0.1,-0.25,-0.42,-0.58,-0.75];
// ---- axis ticks and labels
const logTicks=[0,2,4,6,8];
const timeTicks=[0,2,4,6,8,10,12,14];
const resTicks=[-4,-2,0,2,4];
const popLabel="Population predictions (log IU)";
const indLabel="Individual predictions (log IU)";
const resLabel="Conditional weighted residuals";
const obsLabel="Observations (log IU)";
const timeLabel="Time (d)";

const zipXY=(xs,ys)=>xs.map((x,i)=>[x,ys[i]]);
const expand=(ts,rows)=>ts.flatMap((t,i)=>rows[i].map(v=>[t,v]));
const band=dcvPopBandX.map(x=>[x,6.45]).concat(dcvPopBandDense.map(x=>[x,6.42]));

const ink="#2b2b2b";
const svg=d3.select("#c").append("svg").attr("width",500).attr("height",763).style("filter","blur(0.35px)");

const colX=[[41.5,238.7],[300,497.3]];
const rowY=[[28.3,150],[210.7,332.3],[420.7,542.3],[602.7,724]];
const logDom=[-0.3,8.31], resDom=[-4.28,4.3], timeDom=[-0.53,14.56];

function panel(o){
  const [x0,x1]=colX[o.col],[y1,y0]=rowY[o.row];
  const xD=o.time?timeDom:logDom, yD=o.res?resDom:logDom;
  const x=d3.scaleLinear().domain(xD).range([x0,x1]);
  const y=d3.scaleLinear().domain(yD).range([y0,y1]);
  const g=svg.append("g");
  const id="clip"+o.col+o.row;
  g.append("clipPath").attr("id",id).append("rect").attr("x",x0).attr("y",y1).attr("width",x1-x0).attr("height",y0-y1);
  const line=d3.line().x(d=>x(d[0])).y(d=>y(d[1]));
  const ref=o.res?[[xD[0],0],[xD[1],0]]:[[-0.3,-0.3],[8.31,8.31]];
  g.append("path").attr("clip-path",`url(#${id})`).attr("d",line(ref)).attr("fill","none").attr("stroke",ink).attr("stroke-width",o.res?1.2:0.9).attr("stroke-dasharray",o.res?"4 3":"5 4");
  g.append("g").selectAll("circle").data(o.pts).join("circle")
    .attr("cx",d=>x(d[0])).attr("cy",d=>y(d[1])).attr("r",2.1)
    .attr("fill","none").attr("stroke",ink).attr("stroke-width",1);
  g.append("path").attr("d",line.curve(d3.curveBasis)(o.smooth)).attr("fill","none").attr("stroke","#111").attr("stroke-width",1.7);
  g.append("rect").attr("x",x0).attr("y",y1).attr("width",x1-x0).attr("height",y0-y1).attr("fill","none").attr("stroke","#555").attr("stroke-width",1);
  const ax=g.append("g").attr("transform",`translate(0,${y0})`).call(d3.axisBottom(x).tickValues(o.time?timeTicks:logTicks).tickFormat(d3.format("d")).tickSize(5).tickPadding(6));
  const ay=g.append("g").attr("transform",`translate(${x0},0)`).call(d3.axisLeft(y).tickValues(o.res?resTicks:logTicks).tickFormat(d=>d<0?"-"+(-d):d).tickSize(5).tickPadding(3));
  [ax,ay].forEach(a=>{a.selectAll("path,line").attr("stroke",ink).attr("stroke-width",0.9);
    a.selectAll("text").attr("font-size",11).attr("fill","#333").attr("font-family","inherit");});
  ax.select("path.domain").remove();ay.select("path.domain").remove();
  ay.selectAll("text").attr("x",-10).attr("dy",0).attr("text-anchor","middle").attr("transform","rotate(-90,-10,0)");
  g.append("text").attr("x",(x0+x1)/2).attr("y",y0+o.xt).attr("text-anchor","middle").attr("font-size",10).attr("fill","#333").text(o.xl);
  g.append("text").attr("transform",`translate(${x0-o.yt},${(y0+y1)/2+(o.ys||0)}) rotate(-90)`).attr("text-anchor","middle").attr("font-size",10).attr("fill","#333").text(o.yl);
}

panel({col:0,row:0,pts:band.concat(dcvPop,dcvPopDense),smooth:zipXY(dcvPopSmoothX,dcvPopSmoothY),xl:obsLabel,yl:popLabel,xt:36,yt:31});
panel({col:1,row:0,pts:dcvInd.concat(dcvIndDense),smooth:zipXY(dcvIndSmoothX,dcvIndSmoothY),xl:obsLabel,yl:indLabel,xt:36,yt:31});
panel({col:0,row:1,res:1,pts:dcvResPop.concat(dcvResPopDense),smooth:zipXY(dcvResPopSmoothX,dcvResPopSmoothY),xl:popLabel,yl:resLabel,xt:36,yt:31,ys:2});
panel({col:1,row:1,res:1,time:1,pts:expand(dcvTimes,dcvTimeRes),smooth:zipXY(dcvTimeSmoothX,dcvTimeSmoothY),xl:timeLabel,yl:resLabel,xt:36,yt:31,ys:2});
panel({col:0,row:2,pts:asvPop.concat(asvPopDense),smooth:zipXY(asvPopSmoothX,asvPopSmoothY),xl:obsLabel,yl:popLabel,xt:35,yt:31});
panel({col:1,row:2,pts:asvInd.concat(asvIndDense),smooth:zipXY(asvIndSmoothX,asvIndSmoothY),xl:obsLabel,yl:indLabel,xt:35,yt:31});
panel({col:0,row:3,res:1,pts:asvResPop.concat(asvResPopDense),smooth:zipXY(asvResPopSmoothX,asvResPopSmoothY),xl:popLabel,yl:resLabel,xt:35,yt:31});
panel({col:1,row:3,res:1,time:1,pts:expand(asvTimes,asvTimeRes),smooth:zipXY(asvTimeSmoothX,asvTimeSmoothY),xl:timeLabel,yl:resLabel,xt:35,yt:31});

const headText=["A","DCV","B","ASV"];
const headX=[4,237,6,237], headY=[13,14,403,405.5], headSize=[14.5,10,14.5,10];
svg.selectAll("text.h").data(headText).join("text").attr("class","h").attr("x",(d,i)=>headX[i]).attr("y",(d,i)=>headY[i]).attr("font-size",(d,i)=>headSize[i]).attr("fill","#222").text(d=>d);
</script></body></html>
